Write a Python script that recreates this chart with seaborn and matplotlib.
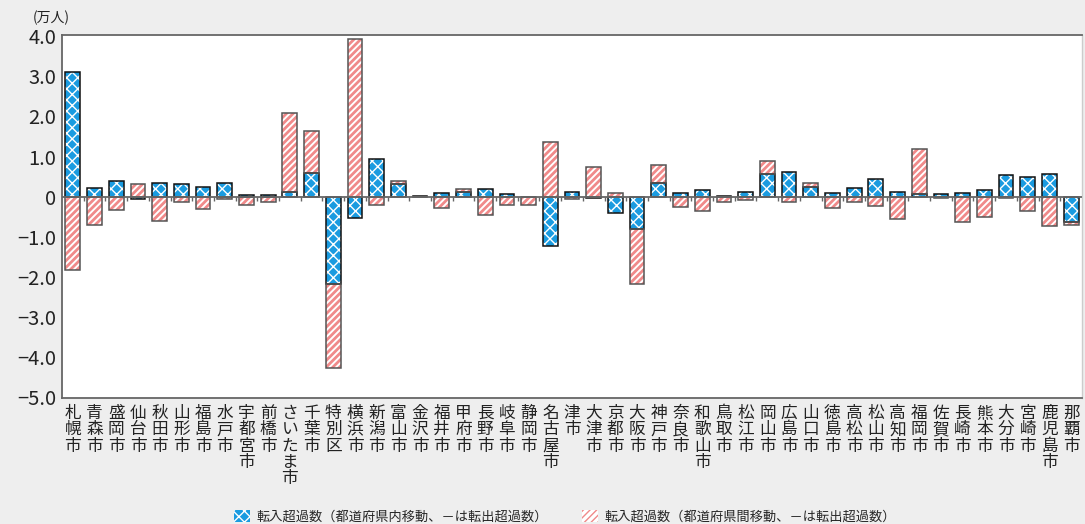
import numpy as np
import pandas as pd
import matplotlib
matplotlib.use("Agg")
import matplotlib.pyplot as plt
import seaborn as sns
from matplotlib.patches import Patch

cities = ["札幌市", "青森市", "盛岡市", "仙台市", "秋田市", "山形市", "福島市", "水戸市",
          "宇都宮市", "前橋市", "さいたま市", "千葉市", "特別区", "横浜市", "新潟市", "富山市",
          "金沢市", "福井市", "甲府市", "長野市", "岐阜市", "静岡市", "名古屋市", "津市",
          "大津市", "京都市", "大阪市", "神戸市", "奈良市", "和歌山市", "鳥取市", "松江市",
          "岡山市", "広島市", "山口市", "徳島市", "高松市", "松山市", "高知市", "福岡市",
          "佐賀市", "長崎市", "熊本市", "大分市", "宮崎市", "鹿児島市", "那覇市"]

# 転入超過数（都道府県内移動） 万人
intra = [3.12, 0.21, 0.39, -0.05, 0.33, 0.31, 0.23, 0.33,
         0.04, 0.03, 0.11, 0.58, -2.17, -0.52, 0.94, 0.31,
         0.01, 0.08, 0.11, 0.19, 0.06, -0.01, -1.23, 0.11,
         -0.03, -0.41, -0.81, 0.34, 0.08, 0.16, 0.02, 0.12,
         0.56, 0.62, 0.23, 0.10, 0.21, 0.43, 0.11, 0.06,
         0.07, 0.08, 0.16, 0.53, 0.50, 0.56, -0.62]

# 転入超過数（都道府県間移動） 万人
inter = [-1.84, -0.71, -0.33, 0.31, -0.60, -0.14, -0.31, -0.06,
         -0.21, -0.14, 1.97, 1.06, -2.09, 3.93, -0.22, 0.09,
         -0.01, -0.29, 0.08, -0.46, -0.21, -0.21, 1.36, -0.06,
         0.73, 0.08, -1.38, 0.46, -0.26, -0.36, -0.14, -0.08,
         0.32, -0.14, 0.10, -0.28, -0.14, -0.24, -0.56, 1.14,
         -0.04, -0.62, -0.51, -0.04, -0.36, -0.72, -0.08]

yticks = [4, 3, 2, 1, 0, -1, -2, -3, -4, -5]

legend_labels = ["転入超過数（都道府県内移動、－は転出超過数）",
                 "転入超過数（都道府県間移動、－は転出超過数）"]

BLUE = "#1a9be0"
RED = "#f08a8a"
BLUE_HATCH = "xxx"
RED_HATCH = "/////"

sns.set_theme(style="white")
plt.rcParams["font.family"] = ["Noto Sans CJK JP", "DejaVu Sans"]
plt.rcParams["axes.unicode_minus"] = True


def set_hlw(patches, lw):
    for p in patches:
        if hasattr(p, "set_hatch_linewidth"):
            p.set_hatch_linewidth(lw)


W, H = 1085, 524
fig = plt.figure(figsize=(W / 100, H / 100), dpi=100, facecolor="#eeeeee")
ax = fig.add_axes([62 / W, 1 - 398 / H, 1020 / W, 363 / H])
ax.set_facecolor("white")

df = pd.DataFrame({"city": cities, "intra": intra, "inter": inter})
x = np.arange(len(cities))
intra_a = np.array(intra)
inter_a = np.array(inter)
bottom = np.where(np.sign(inter_a) == np.sign(intra_a), intra_a, 0.0)
bw = 0.68

with plt.rc_context({"hatch.linewidth": 1.0}):
    sns.barplot(data=df, x="city", y="intra", ax=ax, color=BLUE, saturation=1,
                width=bw, hatch=BLUE_HATCH, edgecolor="white", linewidth=0,
                errorbar=None, zorder=2)
set_hlw(ax.patches, 1.0)
with plt.rc_context({"hatch.linewidth": 2.0}):
    red = ax.bar(x, inter_a, bottom=bottom, width=bw, color="white", hatch=RED_HATCH,
                 edgecolor=RED, linewidth=0, zorder=2)
set_hlw(red.patches, 2.0)
# outlines
ax.bar(x, intra_a, width=bw, fill=False, edgecolor="#111111", linewidth=1.1, zorder=3)
ax.bar(x, inter_a, bottom=bottom, width=bw, fill=False, edgecolor="#555555",
       linewidth=1.1, zorder=3)

ax.axhline(0, color="#666666", lw=1.3, zorder=4)
ax.vlines(x[:-1] + 0.5, -0.11, 0, color="#666666", lw=1.0, zorder=4)

ax.set_xlim(-0.5, len(cities) - 0.5)
ax.set_ylim(-5.02, 4.03)
ax.set_yticks(yticks)
ax.set_yticklabels(["0" if v == 0 else f"{v:.1f}".replace("-", "−") for v in yticks],
                   fontsize=14.5, color="#222222")
ax.set_xticks(x)
ax.set_xticklabels(["\n".join(c) for c in cities], fontsize=12, color="#222222",
                   linespacing=0.95, va="top")
ax.tick_params(axis="x", length=0, pad=5)
ax.tick_params(axis="y", direction="in", length=4, width=1, color="#555555", pad=4)
ax.set_xlabel("")
ax.set_ylabel("")

for s in ["left", "bottom", "top"]:
    ax.spines[s].set_color("#666666")
    ax.spines[s].set_linewidth(1.3)
ax.spines["right"].set_color("#cccccc")
ax.spines["right"].set_linewidth(1.0)

fig.text(33 / W, 1 - 18 / H, "(万人)", fontsize=10, ha="left", va="center",
         color="#222222")

with plt.rc_context({"hatch.linewidth": 1.0}):
    h1 = Patch(facecolor=BLUE, hatch=BLUE_HATCH, edgecolor="white", linewidth=0)
with plt.rc_context({"hatch.linewidth": 2.0}):
    h2 = Patch(facecolor="white", hatch=RED_HATCH, edgecolor=RED, linewidth=0)
set_hlw([h1], 1.0)
set_hlw([h2], 2.0)
leg = fig.legend([h1, h2], legend_labels, loc="center",
                 bbox_to_anchor=(565 / W, 1 - 517 / H),
                 ncol=2, frameon=False, fontsize=9.5, handlelength=1.2, handleheight=1.0,
                 columnspacing=2.6, handletextpad=0.5)

fig.savefig("out.png", dpi=100, facecolor=fig.get_facecolor())
